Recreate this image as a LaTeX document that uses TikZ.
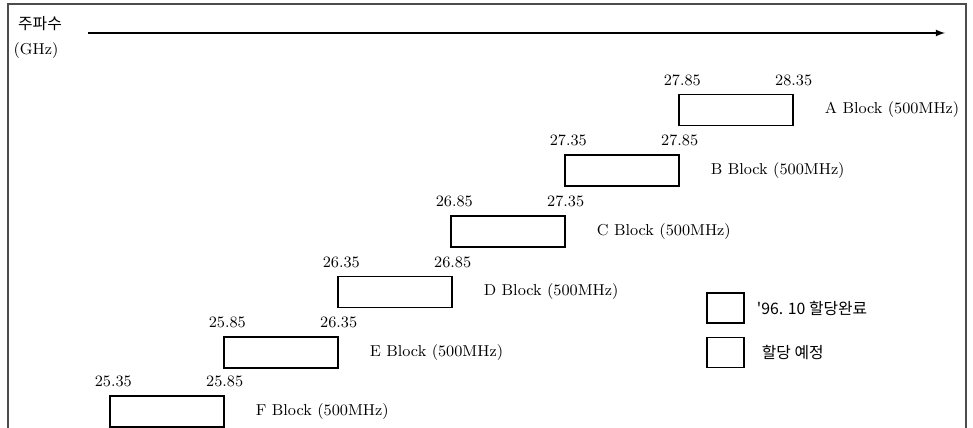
\documentclass[tikz,border=0pt]{standalone}
\usepackage{fontspec}
\newfontfamily\krfont{Noto Sans CJK KR}
\usetikzlibrary{arrows}
\usetikzlibrary{positioning}

\tikzset{
	bandbox/.style = {draw, line width=0.8pt, minimum width=2.28cm, minimum height=0.62cm, inner sep=0},
	legendbox/.style = {draw, line width=0.8pt, minimum width=0.74cm, minimum height=0.6cm, inner sep=0},
	freq/.style = {font=\small, inner sep=1pt},
	blocklabel/.style = {font=\small}
}

\begin{document}
\begin{tikzpicture}[x = 0.02cm, y = -0.02cm]
	\useasboundingbox (0, 0) rectangle (973, 428);
	% Frame
	\draw[line width=0.6pt, black!70] (8, 428) -- (8, 4) -- (966, 4) -- (966, 428);

	% Axis
	\node[font=\krfont\small] (axislabel) at (40, 24) {주파수};
	\node[font=\small] (unit) at (36, 51) {(GHz)};
	\coordinate (axisstart) at (88, 33);
	\coordinate (axisend) at (945, 33);
	\draw[thick, -latex] (axisstart) to (axisend);

	% Blocks
	\node[bandbox] (a) at (736, 110) {};
	\node[bandbox] (b) at (622, 170.5) {};
	\node[bandbox] (c) at (508, 231.5) {};
	\node[bandbox] (d) at (395, 292) {};
	\node[bandbox] (e) at (281, 352.5) {};
	\node[bandbox] (f) at (167, 411.5) {};

	% Band edges
	\node[freq, above=0.12cm of a.north west, xshift=0.08cm] (a-lo) {27.85};
	\node[freq, above=0.12cm of a.north east] (a-hi) {28.35};
	\node[freq, above=0.12cm of b.north west, xshift=0.08cm] (b-lo) {27.35};
	\node[freq, above=0.12cm of b.north east] (b-hi) {27.85};
	\node[freq, above=0.12cm of c.north west, xshift=0.08cm] (c-lo) {26.85};
	\node[freq, above=0.12cm of c.north east] (c-hi) {27.35};
	\node[freq, above=0.12cm of d.north west, xshift=0.08cm] (d-lo) {26.35};
	\node[freq, above=0.12cm of d.north east] (d-hi) {26.85};
	\node[freq, above=0.12cm of e.north west, xshift=0.08cm] (e-lo) {25.85};
	\node[freq, above=0.12cm of e.north east] (e-hi) {26.35};
	\node[freq, above=0.12cm of f.north west, xshift=0.08cm] (f-lo) {25.35};
	\node[freq, above=0.12cm of f.north east] (f-hi) {25.85};

	% Block names
	\node[blocklabel, right=0.5cm of a] (a-name) {A Block (500MHz)};
	\node[blocklabel, right=0.5cm of b] (b-name) {B Block (500MHz)};
	\node[blocklabel, right=0.5cm of c] (c-name) {C Block (500MHz)};
	\node[blocklabel, right=0.5cm of d] (d-name) {D Block (500MHz)};
	\node[blocklabel, right=0.5cm of e] (e-name) {E Block (500MHz)};
	\node[blocklabel, right=0.5cm of f] (f-name) {F Block (500MHz)};

	% Legend
	\node[legendbox] (done) at (725.5, 308) {};
	\node[legendbox] (planned) at (725.5, 352.5) {};
	\node[font=\krfont\small, right=0.12cm of done] (done-text) {'96. 10 할당완료};
	\node[font=\krfont\small, right=0.22cm of planned] (planned-text) {할당 예정};
\end{tikzpicture}
\end{document}
